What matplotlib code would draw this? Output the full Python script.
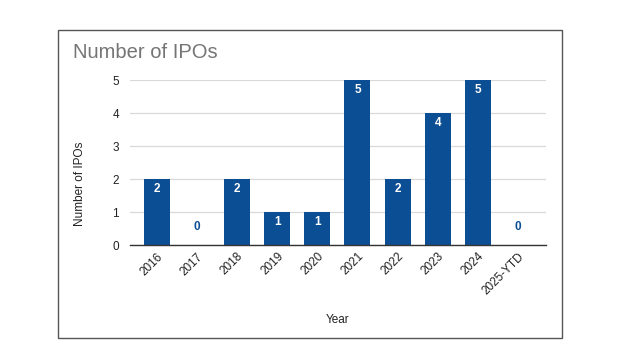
import matplotlib
matplotlib.use("Agg")
import matplotlib.pyplot as plt
from matplotlib.patches import Rectangle

years = ["2016", "2017", "2018", "2019", "2020", "2021", "2022", "2023", "2024", "2025-YTD"]
ipos = [2, 0, 2, 1, 1, 5, 2, 4, 5, 0]
yticks = [0, 1, 2, 3, 4, 5]

plt.rcParams['font.family'] = ['Liberation Sans', 'DejaVu Sans']
W, H = 634, 360
fig = plt.figure(figsize=(W/100, H/100), dpi=100)
fig.patch.set_facecolor('white')

# outer box
fig.patches.append(Rectangle((58/W, 1-338/H), (562-58)/W, (338-30)/H, transform=fig.transFigure,
                             fill=False, edgecolor='#555555', linewidth=1.0))

ax = fig.add_axes([130/W, 1-245/H, (546-130)/W, (245-80)/H])
color = '#0c4e94'
x = list(range(len(years)))
ax.bar(x, ipos, width=0.65, color=color, zorder=3)
ax.set_xlim(-0.67, 9.7)
ax.set_ylim(0, 5)
ax.set_yticks(yticks)
ax.set_yticklabels([str(t) for t in yticks], fontsize=8.5, color='#222222')
ax.grid(axis='y', color='#d9d9d9', linewidth=0.9, zorder=0)
for s in ['top', 'right', 'left']:
    ax.spines[s].set_visible(False)
ax.spines['bottom'].set_color('#333333')
ax.spines['bottom'].set_linewidth(1.0)
ax.spines['bottom'].set_zorder(4)
ax.tick_params(axis='both', length=0)
ax.tick_params(axis='y', pad=8)
ax.set_xticks(x)
ax.set_xticklabels(years, rotation=45, ha='right', rotation_mode='anchor', fontsize=8.5, color='#222222')
ax.tick_params(axis='x', pad=4)

for xi, v in zip(x, ipos):
    if v > 0:
        ax.text(xi, v - 0.12, str(v), ha='center', va='top', color='white', fontsize=8.5, fontweight='bold', zorder=5)
    else:
        ax.text(xi, 0.55, str(v), ha='center', va='center', color=color, fontsize=8.5, fontweight='bold', zorder=5)

ax.set_xlabel("Year", fontsize=8.5, color='#222222', labelpad=12)
ax.set_ylabel("Number of IPOs", fontsize=8.5, color='#222222')
ax.yaxis.set_label_coords(-0.105, 0.37)

fig.text(73/W, 1-53/H, "Number of IPOs", fontsize=14.5, color='#757575', va='center', ha='left')

fig.savefig("out.png", dpi=100)
